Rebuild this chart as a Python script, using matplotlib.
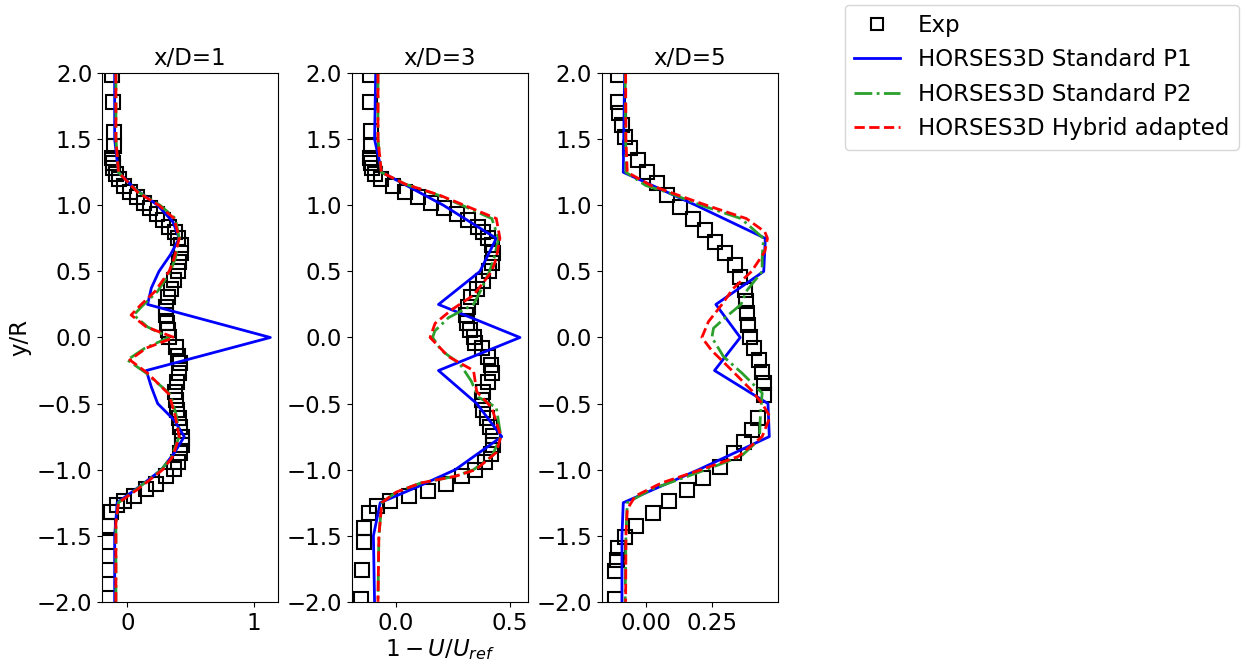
import matplotlib
matplotlib.use("Agg")
import matplotlib.pyplot as plt

# ---- experimental data (y/R, 1 - U/Uref) ----
exp1_y = [1.985, 1.78, 1.556, 1.45, 1.357, 1.32, 1.28, 1.24, 1.2, 1.145, 1.10, 1.06, 1.02, 0.98,
          0.934, 0.888, 0.838, 0.80, 0.755, 0.70, 0.64, 0.573, 0.50, 0.435, 0.367, 0.306, 0.233,
          0.17, 0.11, 0.057, 0.006, -0.07, -0.14, -0.19, -0.27, -0.334, -0.41, -0.47, -0.55,
          -0.61, -0.675, -0.75, -0.81, -0.875, -0.94, -0.995, -1.05, -1.11, -1.15, -1.2, -1.234,
          -1.267, -1.317, -1.43, -1.544, -1.76, -1.97]
exp1_x = [-0.12, -0.11, -0.105, -0.105, -0.12, -0.115, -0.11, -0.09, -0.065, -0.025, 0.024, 0.078,
          0.13, 0.18, 0.234, 0.28, 0.33, 0.379, 0.40, 0.427, 0.427, 0.41, 0.40, 0.37, 0.347, 0.32,
          0.306, 0.306, 0.31, 0.32, 0.33, 0.387, 0.40, 0.415, 0.41, 0.395, 0.38, 0.385, 0.395,
          0.41, 0.42, 0.433, 0.433, 0.42, 0.40, 0.368, 0.306, 0.226, 0.145, 0.056, -0.03, -0.083,
          -0.13, -0.15, -0.15, -0.15, -0.155]

exp2_y = [1.985, 1.78, 1.56, 1.45, 1.357, 1.32, 1.28, 1.24, 1.20, 1.145, 1.10, 1.06, 1.02, 0.977,
          0.934, 0.888, 0.838, 0.80, 0.75, 0.70, 0.636, 0.561, 0.50, 0.43, 0.364, 0.304, 0.233,
          0.17, 0.107, 0.057, 0.0, -0.044, -0.082, -0.145, -0.208, -0.27, -0.34, -0.41, -0.47,
          -0.55, -0.61, -0.675, -0.745, -0.81, -0.88, -0.94, -1.0, -1.05, -1.11, -1.16, -1.2,
          -1.234, -1.274, -1.33, -1.44, -1.55, -1.76, -1.98]
exp2_x = [-0.114, -0.114, -0.11, -0.11, -0.114, -0.11, -0.107, -0.095, -0.066, -0.012, 0.04, 0.095,
          0.154, 0.208, 0.266, 0.314, 0.36, 0.383, 0.405, 0.42, 0.426, 0.42, 0.408, 0.383, 0.354,
          0.329, 0.314, 0.306, 0.31, 0.325, 0.34, 0.347, 0.376, 0.405, 0.417, 0.42, 0.405, 0.383,
          0.376, 0.383, 0.398, 0.412, 0.426, 0.426, 0.417, 0.39, 0.347, 0.288, 0.218, 0.142,
          0.057, -0.026, -0.085, -0.12, -0.143, -0.143, -0.15, -0.153]

exp3_y = [1.985, 1.78, 1.695, 1.607, 1.518, 1.43, 1.34, 1.254, 1.17, 1.077, 0.99, 0.90, 0.81,
          0.724, 0.636, 0.548, 0.46, 0.36, 0.278, 0.188, 0.095, 0.0, -0.08, -0.17, -0.26, -0.346,
          -0.435, -0.61, -0.70, -0.79, -0.876, -0.977, -1.065, -1.153, -1.24, -1.33, -1.425,
          -1.506, -1.594, -1.68, -1.763, -1.98]
exp3_x = [-0.106, -0.106, -0.1, -0.09, -0.08, -0.06, -0.03, 0.004, 0.042, 0.08, 0.13, 0.177, 0.225,
          0.26, 0.30, 0.338, 0.357, 0.374, 0.38, 0.383, 0.386, 0.395, 0.408, 0.427, 0.44, 0.446,
          0.446, 0.424, 0.40, 0.37, 0.332, 0.28, 0.218, 0.155, 0.086, 0.029, -0.038, -0.078,
          -0.106, -0.11, -0.116, -0.116]

# ---- HORSES3D Standard P1 ----
p1_1_y = [2.0, 1.5, 1.25, 1.125, 1.0, 0.875, 0.75, 0.625, 0.5, 0.375, 0.25, 0.0, -0.25, -0.375,
          -0.5, -0.625, -0.75, -0.875, -1.0, -1.125, -1.25, -1.5, -2.0]
p1_1_x = [-0.10, -0.10, -0.07, 0.06, 0.24, 0.36, 0.41, 0.34, 0.25, 0.19, 0.16, 1.13, 0.15, 0.19,
          0.24, 0.37, 0.45, 0.37, 0.27, 0.10, -0.08, -0.10, -0.10]

p1_2_y = [2.0, 1.5, 1.25, 1.0, 0.75, 0.5, 0.25, 0.0, -0.25, -0.5, -0.75, -1.0, -1.125, -1.25,
          -1.5, -2.0]
p1_2_x = [-0.09, -0.095, -0.063, 0.208, 0.44, 0.368, 0.186, 0.544, 0.186, 0.354, 0.464, 0.26,
          0.10, -0.07, -0.10, -0.095]

p1_3_y = [2.0, 1.25, 1.0, 0.75, 0.5, 0.25, 0.0, -0.25, -0.5, -0.75, -1.0, -1.25, -1.5, -2.0]
p1_3_x = [-0.08, -0.085, 0.19, 0.452, 0.446, 0.265, 0.357, 0.26, 0.462, 0.467, 0.2, -0.085,
          -0.09, -0.09]

# ---- HORSES3D Standard P2 ----
p2_1_y = [2.0, 1.5, 1.25, 1.15, 1.1, 1.0, 0.9, 0.75, 0.6, 0.5, 0.35, 0.25, 0.17, 0.08, 0.0,
          -0.08, -0.17, -0.27, -0.43, -0.6, -0.75, -0.9, -1.0, -1.15, -1.25, -1.4, -2.0]
p2_1_x = [-0.09, -0.09, -0.07, 0.03, 0.09, 0.26, 0.38, 0.41, 0.38, 0.34, 0.24, 0.13, 0.05, 0.16,
          0.33, 0.14, 0.0, 0.15, 0.34, 0.39, 0.41, 0.35, 0.27, 0.07, -0.07, -0.09, -0.09]

p2_2_y = [2.0, 1.5, 1.25, 1.16, 1.08, 1.0, 0.9, 0.75, 0.6, 0.5, 0.35, 0.25, 0.15, 0.05, 0.0,
          -0.1, -0.2, -0.33, -0.45, -0.53, -0.75, -0.9, -1.0, -1.05, -1.1, -1.17, -1.25, -1.5, -2.0]
p2_2_x = [-0.08, -0.08, -0.065, 0.04, 0.18, 0.29, 0.42, 0.45, 0.43, 0.41, 0.37, 0.34, 0.23, 0.17,
          0.16, 0.2, 0.28, 0.33, 0.36, 0.44, 0.46, 0.42, 0.34, 0.26, 0.11, 0.0, -0.063, -0.076, -0.08]

p2_3_y = [2.0, 1.25, 1.15, 1.1, 1.0, 0.9, 0.75, 0.6, 0.5, 0.35, 0.25, 0.15, 0.07, 0.0, -0.145,
          -0.27, -0.42, -0.6, -0.77, -0.9, -1.02, -1.15, -1.25, -1.5, -2.0]
p2_3_x = [-0.078, -0.075, 0.0, 0.08, 0.21, 0.36, 0.445, 0.44, 0.44, 0.38, 0.36, 0.30, 0.256,
          0.25, 0.294, 0.364, 0.44, 0.433, 0.43, 0.36, 0.2, 0.02, -0.07, -0.075, -0.078]

# ---- HORSES3D Hybrid adapted ----
hy_1_y = [2.0, 1.5, 1.25, 1.15, 1.1, 1.0, 0.9, 0.75, 0.6, 0.5, 0.35, 0.25, 0.17, 0.08, 0.0,
          -0.08, -0.17, -0.27, -0.43, -0.6, -0.75, -0.9, -1.0, -1.15, -1.25, -1.4, -2.0]
hy_1_x = [-0.09, -0.09, -0.07, 0.03, 0.08, 0.25, 0.37, 0.41, 0.37, 0.33, 0.22, 0.11, 0.03, 0.15,
          0.37, 0.15, 0.02, 0.16, 0.33, 0.38, 0.41, 0.36, 0.28, 0.08, -0.07, -0.09, -0.09]

hy_2_y = [2.0, 1.5, 1.25, 1.16, 1.08, 1.0, 0.9, 0.75, 0.6, 0.5, 0.32, 0.21, 0.107, 0.0, -0.145,
          -0.25, -0.41, -0.53, -0.75, -0.87, -1.0, -1.05, -1.1, -1.17, -1.25, -1.5, -2.0]
hy_2_x = [-0.08, -0.08, -0.065, 0.04, 0.186, 0.30, 0.44, 0.456, 0.44, 0.42, 0.34, 0.244, 0.171,
          0.149, 0.23, 0.34, 0.354, 0.42, 0.46, 0.44, 0.35, 0.26, 0.11, 0.0, -0.063, -0.076, -0.08]

hy_3_y = [2.0, 1.5, 1.25, 1.15, 1.1, 1.0, 0.9, 0.8, 0.75, 0.65, 0.5, 0.37, 0.25, 0.12, 0.0,
          -0.1, -0.25, -0.4, -0.5, -0.6, -0.75, -0.9, -1.0, -1.1, -1.2, -1.3, -1.5, -2.0]
hy_3_x = [-0.076, -0.075, -0.07, 0.02, 0.09, 0.23, 0.38, 0.45, 0.46, 0.45, 0.40, 0.33, 0.288,
          0.237, 0.212, 0.25, 0.326, 0.40, 0.44, 0.47, 0.44, 0.35, 0.21, 0.06, -0.04, -0.07,
          -0.075, -0.076]

titles = ["x/D=1", "x/D=3", "x/D=5"]
xlims = [(-0.2, 1.19), (-0.195, 0.578), (-0.167, 0.498)]
xticks = [[0, 1], [0.0, 0.5], [0.0, 0.25]]
xticklabels = [["0", "1"], ["0.0", "0.5"], ["0.00", "0.25"]]

exp_data = [(exp1_x, exp1_y), (exp2_x, exp2_y), (exp3_x, exp3_y)]
p1_data = [(p1_1_x, p1_1_y), (p1_2_x, p1_2_y), (p1_3_x, p1_3_y)]
p2_data = [(p2_1_x, p2_1_y), (p2_2_x, p2_2_y), (p2_3_x, p2_3_y)]
hy_data = [(hy_1_x, hy_1_y), (hy_2_x, hy_2_y), (hy_3_x, hy_3_y)]

plt.rcParams["font.size"] = 16.5

fig, axes = plt.subplots(1, 3, figsize=(12.44, 6.65), dpi=100)
fig.subplots_adjust(left=0.082, right=0.625, top=0.89, bottom=0.095, wspace=0.42)

for i, ax in enumerate(axes):
    ax.plot(*exp_data[i], "s", color="black", mfc="none", ms=9.5, mew=1.5, label="Exp")
    ax.plot(*p1_data[i], "-", color="blue", lw=2, label="HORSES3D Standard P1")
    ax.plot(*p2_data[i], "-.", color="tab:green", lw=2, label="HORSES3D Standard P2")
    ax.plot(*hy_data[i], "--", color="red", lw=2, label="HORSES3D Hybrid adapted")
    ax.set_ylim(-2, 2)
    ax.set_xlim(*xlims[i])
    ax.set_xticks(xticks[i])
    ax.set_xticklabels(xticklabels[i])
    ax.set_title(titles[i], fontsize=16.5)

axes[0].set_ylabel("y/R")
axes[1].set_xlabel("$1-U/U_{ref}$", labelpad=2)

handles, labels = axes[0].get_legend_handles_labels()
fig.legend(handles, labels, loc="upper right", bbox_to_anchor=(1.005, 1.01), markerscale=0.85)

plt.savefig("out.png")
